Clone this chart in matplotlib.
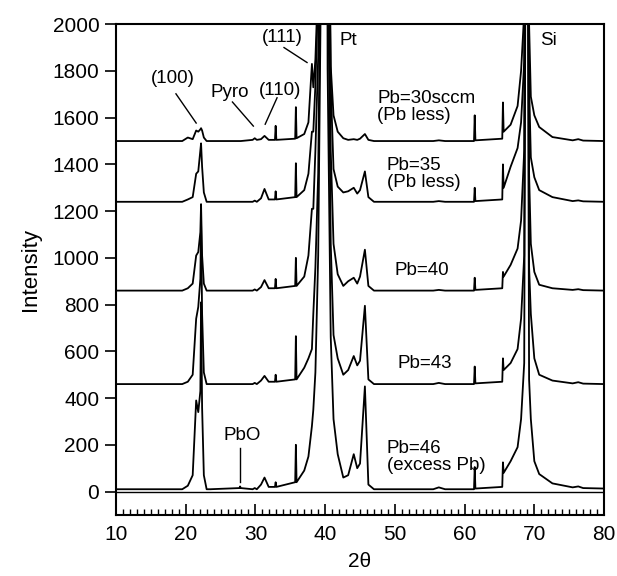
import matplotlib
matplotlib.use("Agg")
import matplotlib.pyplot as plt
from matplotlib.ticker import MultipleLocator

plt.rcParams['font.family'] = ['Liberation Sans', 'DejaVu Sans']

# 2-theta vertices shared by all patterns
two_theta = [10.0, 19.5, 20.3, 21.0, 21.5, 21.8, 22.1, 22.2, 22.35, 22.6, 23.0, 23.5,
             27.7, 27.8, 27.9, 29.6, 29.9, 30.2, 30.8, 31.3, 31.9,
             32.8, 32.9, 33.0, 35.7, 35.8, 35.9, 37.0, 37.6, 38.1, 38.3, 38.6,
             39.0, 39.4, 39.9, 40.35, 40.8, 41.2, 41.8, 42.6, 43.3, 44.1, 44.6,
             45.0, 45.7, 46.2, 47.0, 55.5, 56.3, 57.2, 61.35, 61.45, 61.55,
             65.4, 65.5, 65.6, 66.6, 67.6, 68.1, 68.55, 68.75, 68.9, 69.05, 69.25,
             69.5, 70.0, 70.7, 72.6, 75.5, 76.3, 77.0, 80.0]

# intensities above each pattern's baseline
I_pb30 = [0, 0, 15, 8, 45, 40, 50, 55, 45, 15, 0, 0,
          0, 0, 0, 5, 12, 5, 8, 22, 5,
          5, 65, 5, 10, 145, 12, 30, 80, 330, 230, 350,
          700, 1500, 9000, 1500, 320, 110, 40, 12, 5, 8, 5,
          10, 30, 5, 0, 0, 3, 0, 0, 110, 3,
          10, 165, 40, 70, 150, 300, 550, 2500, 30000, 2500, 500,
          190, 110, 60, 17, 3, 8, 2, 0]
I_pb35 = [0, 0, 10, 20, 120, 130, 220, 250, 150, 40, 0, 0,
          0, 0, 0, 0, 5, 0, 15, 55, 10,
          10, 45, 10, 20, 165, 20, 50, 120, 300, 300, 500,
          900, 2000, 9000, 2000, 500, 140, 65, 40, 45, 60, 35,
          50, 130, 20, 0, 0, 3, 0, 0, 60, 3,
          10, 160, 60, 150, 230, 340, 600, 2500, 30000, 2500, 500,
          190, 105, 50, 20, 3, 6, 2, 0]
I_pb40 = [0, 0, 10, 30, 150, 165, 250, 370, 150, 30, 0, 0,
          0, 0, 0, 0, 5, 0, 15, 45, 10,
          10, 50, 10, 20, 140, 20, 60, 150, 350, 350, 600,
          1000, 2000, 9000, 2000, 600, 200, 70, 20, 40, 55, 30,
          60, 175, 20, 0, 0, 3, 0, 0, 55, 3,
          10, 80, 60, 110, 180, 300, 600, 2500, 30000, 2500, 500,
          200, 80, 25, 10, 3, 6, 2, 0]
I_pb43 = [0, 0, 10, 40, 280, 330, 450, 700, 300, 50, 0, 0,
          0, 0, 0, 0, 5, 0, 15, 35, 10,
          10, 40, 10, 20, 205, 20, 70, 110, 150, 300, 500,
          900, 2000, 9000, 2000, 600, 210, 110, 40, 60, 120, 80,
          100, 335, 20, 0, 0, 5, 0, 0, 75, 3,
          10, 110, 60, 90, 150, 280, 550, 2500, 30000, 2500, 500,
          300, 110, 40, 15, 3, 8, 2, 0]
I_pb46 = [0, 0, 15, 60, 380, 330, 420, 800, 350, 60, 0, 0,
          5, 12, 5, 0, 5, 0, 20, 50, 10,
          10, 30, 10, 30, 190, 30, 80, 140, 270, 340, 500,
          1000, 2200, 9000, 1800, 650, 300, 150, 50, 60, 150, 90,
          110, 440, 20, 0, 0, 8, 0, 0, 95, 3,
          10, 115, 70, 120, 180, 300, 540, 2500, 30000, 2500, 470,
          300, 120, 65, 25, 8, 12, 5, 3]

offsets = [1500, 1240, 860, 460, 10]
series = [I_pb30, I_pb35, I_pb40, I_pb43, I_pb46]

sample_labels = ["Pb=30sccm\n(Pb less)", "Pb=35\n(Pb less)", "Pb=40", "Pb=43",
                 "Pb=46\n(excess Pb)"]
sample_label_pos = [(47.5, 1646), (48.8, 1360), (50.0, 946), (50.4, 548), (48.8, 150)]

fig = plt.figure(figsize=(6.17, 5.76), dpi=100)
ax = fig.add_axes([0.188, 0.106, 0.791, 0.852])

for off, vals in zip(offsets, series):
    ax.plot(two_theta, [off + v for v in vals], color='black', lw=1.3)

ax.axhline(0, color='black', lw=1.0)

ax.set_xlim(10, 80)
ax.set_ylim(-100, 2000)
ax.xaxis.set_major_locator(MultipleLocator(10))
ax.xaxis.set_minor_locator(MultipleLocator(1))
ax.yaxis.set_major_locator(MultipleLocator(200))
ax.tick_params(axis='x', which='major', direction='in', length=8, width=1.2, labelsize=15, pad=7)
ax.tick_params(axis='x', which='minor', direction='in', length=4, width=1.0)
ax.tick_params(axis='y', which='major', direction='out', length=8, width=1.2, labelsize=15, pad=4)
for s in ax.spines.values():
    s.set_linewidth(1.5)

ax.set_xlabel("2θ", fontsize=15, labelpad=6)
ax.set_ylabel("Intensity", fontsize=16, labelpad=8)

fs = 13.5
for txt, (x, y) in zip(sample_labels, sample_label_pos):
    ax.text(x, y, txt, fontsize=fs, ha='left', va='center', linespacing=1.0)

ax.text(18.1, 1767, "(100)", fontsize=fs, ha='center', va='center')
ax.plot([18.6, 21.5], [1702, 1577], color='black', lw=1.0)
ax.text(26.3, 1706, "Pyro", fontsize=fs, ha='center', va='center')
ax.plot([26.7, 29.7], [1667, 1564], color='black', lw=1.0)
ax.text(33.5, 1715, "(110)", fontsize=fs, ha='center', va='center')
ax.plot([33.1, 31.4], [1685, 1572], color='black', lw=1.0)
ax.text(33.8, 1944, "(111)", fontsize=fs, ha='center', va='center')
ax.plot([34.1, 37.4], [1900, 1836], color='black', lw=1.0)
ax.text(42.0, 1931, "Pt", fontsize=fs, ha='left', va='center')
ax.text(70.8, 1931, "Si", fontsize=fs, ha='left', va='center')
ax.text(28.1, 242, "PbO", fontsize=fs, ha='center', va='center')
ax.plot([27.85, 27.85], [39, 186], color='black', lw=1.0)

fig.savefig("out.png", dpi=100)
